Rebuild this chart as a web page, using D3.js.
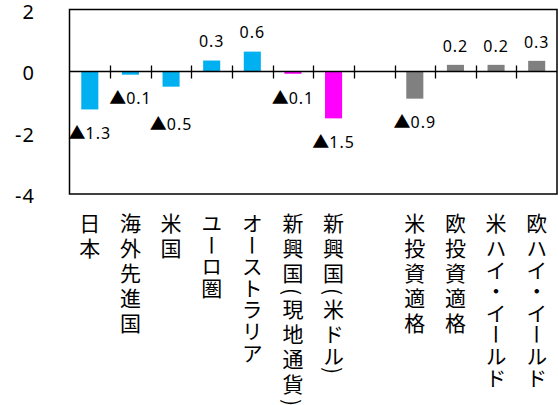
<!DOCTYPE html>
<html>
<head>
<meta charset="utf-8">
<script src="https://cdn.jsdelivr.net/npm/d3@7"></script>
<style>
  body { margin: 0; background: #fff; }
  svg { display: block; }
</style>
</head>
<body>
<div id="chart"></div>
<script>
// categories (the empty one is a spacer slot in the original chart)
const categories = [
  "日本", "海外先進国", "米国", "ユーロ圏", "オーストラリア",
  "新興国(現地通貨)", "新興国(米ドル)", "",
  "米投資適格", "欧投資適格", "米ハイ・イールド", "欧ハイ・イールド"
];
// values (null = no bar)
const values = [-1.25, -0.12, -0.51, 0.34, 0.63, -0.09, -1.54, null, -0.9, 0.2, 0.2, 0.33];
// colour group per category
const groups = ["jp", "jp", "jp", "jp", "jp", "em", "em", null, "cr", "cr", "cr", "cr"];
const yTicks = [2, 0, -2, -4];

const colors = { jp: "#00B0F0", em: "#FF00FF", cr: "#808080" };

const W = 558, H = 405;
const plot = { left: 69.5, right: 557, top: 9.5, bottom: 194 };
const font = "'Noto Sans', 'Noto Sans CJK JP', sans-serif";
const cjk = "'Noto Sans CJK JP', sans-serif";

const svg = d3.select("#chart").append("svg")
  .attr("width", W).attr("height", H);

const idx = d3.range(categories.length);

const slot = d3.scaleBand().domain(idx).range([plot.left, plot.right]);
const x = d3.scaleBand().domain(idx).range([plot.left, plot.right])
  .paddingInner(0.58).paddingOuter(0.29);
const y = d3.scaleLinear().domain([-4, 2]).range([plot.bottom, plot.top]);

// frame
svg.append("rect")
  .attr("x", plot.left).attr("y", plot.top)
  .attr("width", plot.right - plot.left).attr("height", plot.bottom - plot.top)
  .attr("fill", "none").attr("stroke", "#000").attr("stroke-width", 1.5);

// y tick labels
svg.append("g").selectAll("text")
  .data(yTicks).enter().append("text")
  .attr("x", 35).attr("y", (d) => y(d))
  .attr("dy", "0.45em")
  .attr("text-anchor", "end")
  .attr("font-family", font).attr("font-size", 20)
  .attr("letter-spacing", 1)
  .text((d) => d);

// bars
const data = idx.filter((i) => values[i] !== null);
svg.append("g").selectAll("rect")
  .data(data).enter().append("rect")
  .attr("x", (i) => x(i))
  .attr("width", x.bandwidth())
  .attr("y", (i) => y(Math.max(0, values[i])))
  .attr("height", (i) => Math.abs(y(values[i]) - y(0)))
  .attr("fill", (i) => colors[groups[i]]);

// zero axis with cross tick marks at slot boundaries
const y0 = Math.round(y(0)) + 0.5;
svg.append("line")
  .attr("x1", plot.left).attr("x2", plot.right)
  .attr("y1", y0).attr("y2", y0)
  .attr("stroke", "#000").attr("stroke-width", 1.3);
svg.append("g").selectAll("line")
  .data(idx.slice(1)).enter().append("line")
  .attr("x1", (i) => Math.round(slot(i)) + 0.5)
  .attr("x2", (i) => Math.round(slot(i)) + 0.5)
  .attr("y1", y0 - 6).attr("y2", y0 + 7)
  .attr("stroke", "#000").attr("stroke-width", 1.3);

// data labels (▲ = minus)
const nudge = { 2: 14 };
const labels = svg.append("g").selectAll("text")
  .data(data).enter().append("text")
  .attr("x", (i) => x(i) + x.bandwidth() / 2)
  .attr("y", (i) => values[i] >= 0
    ? y(values[i]) - 19
    : y(values[i]) + 24 + (nudge[i] || 0))
  .attr("dy", "0.36em")
  .attr("text-anchor", "middle")
  .attr("font-family", font).attr("font-size", 16)
  .attr("letter-spacing", 1);
labels.filter((i) => values[i] < 0).append("tspan")
  .attr("font-family", cjk).attr("font-size", 17).attr("letter-spacing", 0)
  .text("▲");
labels.append("tspan").text((i) => Math.abs(values[i]).toFixed(1));

// vertical category labels; kana is set a bit tighter than kanji, as in the original
const isKana = (c) => /[\u30A0-\u30FF]/.test(c);
svg.append("g").selectAll("text")
  .data(idx).enter().append("text")
  .attr("x", (i) => slot(i) + slot.bandwidth() / 2)
  .attr("y", 213)
  .attr("writing-mode", "vertical-rl")
  .attr("font-family", cjk).attr("font-size", 21)
  .selectAll("tspan")
  .data((i) => Array.from(categories[i]))
  .enter().append("tspan")
  .attr("letter-spacing", (c) => (isKana(c) ? 0.6 : 4))
  .text((c) => c);
</script>
</body>
</html>
